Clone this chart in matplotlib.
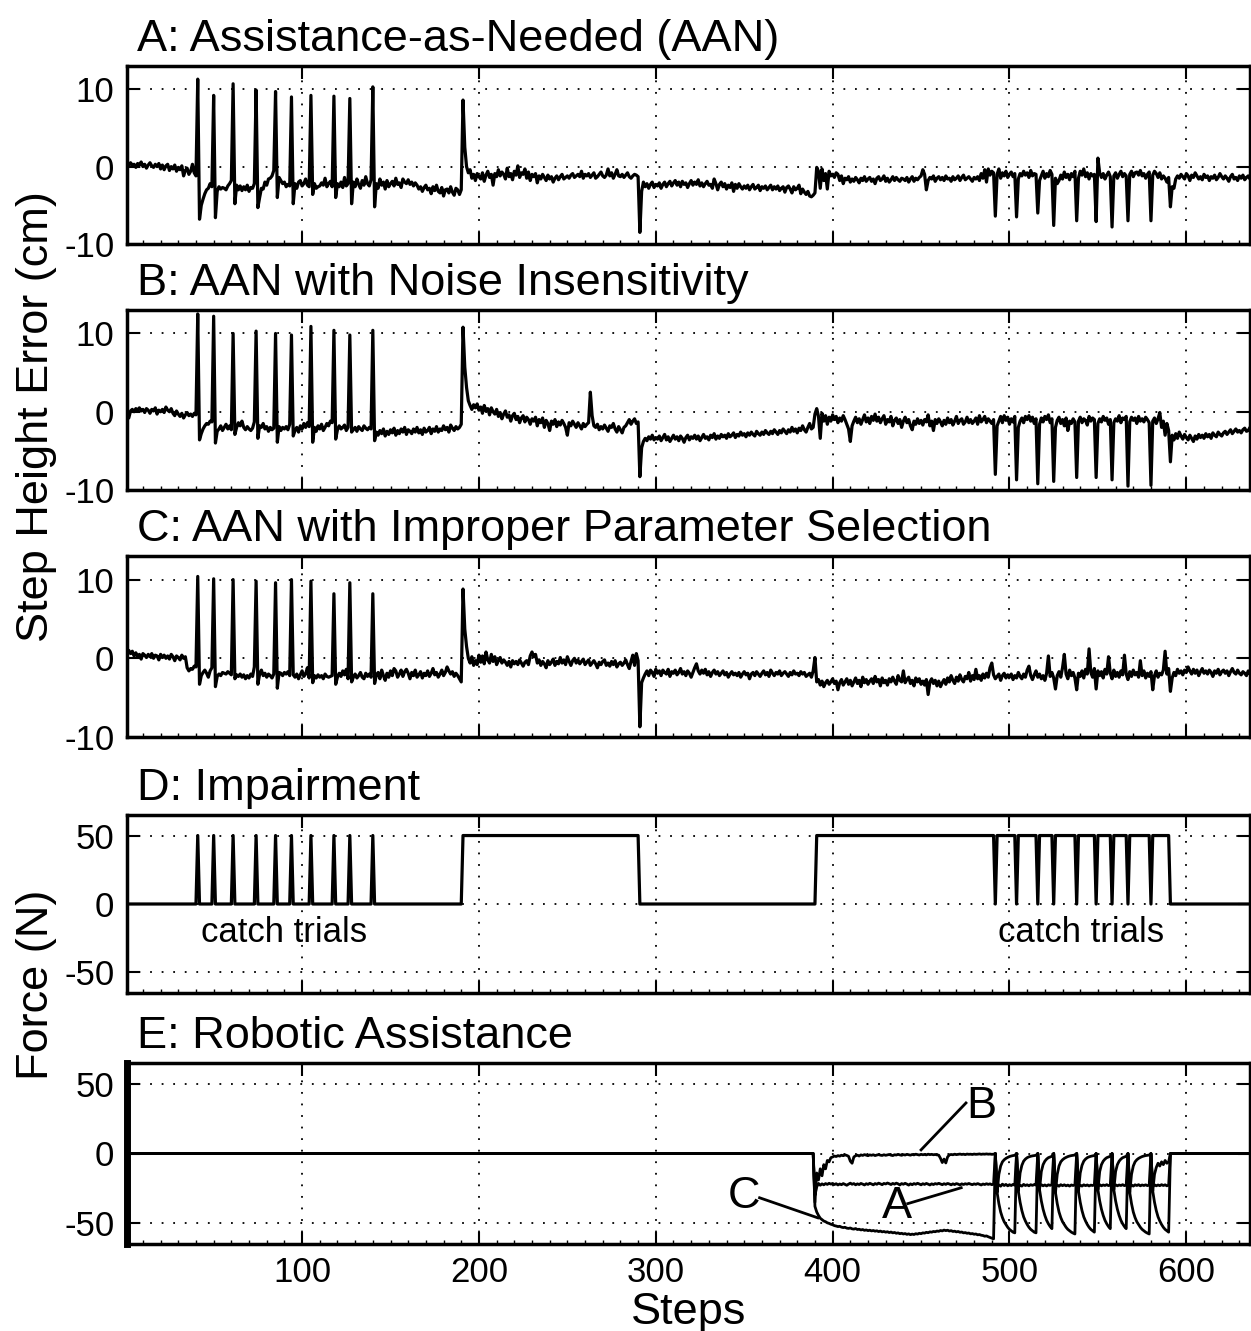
"""
step height error and force traces for the AAN simulations.
five stacked panels, black lines, dotted grid.
"""

import numpy as np
import matplotlib
matplotlib.use('Agg')
import matplotlib.pyplot as plt

plt.rcParams['font.family'] = ['Liberation Sans', 'DejaVu Sans']
plt.rcParams['axes.unicode_minus'] = False

# step height error (cm), one value per step, steps 1..640
err_aan = [
    0.4, 0.1, 0.5, 0.2, 0.3, -0.1, 0.4, 0.2, 0.6, 0.0,
    0.3, -0.2, 0.2, 0.5, 0.1, -0.1, 0.3, 0.0, 0.4, -0.3,
    0.2, -0.4, 0.1, 0.3, -0.5, 0.0, -0.3, 0.2, -0.6, -0.1,
    -0.4, 0.1, -1.2, -0.5, -0.2, -1.0, -0.6, 0.3, -0.8, -1.2,
    11.3, -6.8, -5.0, -4.2, -3.5, -3.0, -2.8, -2.2, -2.6, 9.2,
    -6.6, -3.2, -2.6, -2.9, -2.7, -2.8, -3.0, -2.5, -2.2, -1.8,
    10.7, -4.8, -2.4, -3.0, -2.5, -3.1, -2.6, -3.0, -2.4, -3.2,
    -2.7, -2.8, -2.2, 9.9, -5.3, -4.0, -2.8, -2.9, -2.0, -2.4,
    -1.6, -1.5, -1.2, -0.5, 9.7, -4.0, -1.4, -1.8, -2.2, -2.0,
    -2.6, -2.3, -2.5, 9.0, -4.8, -2.2, -2.8, -2.0, -1.8, -2.5,
    -2.2, -1.6, -2.4, -2.6, 9.2, -3.6, -2.2, -2.8, -2.6, -2.5,
    -2.1, -2.4, -1.5, -2.6, -2.2, -1.9, -2.6, 9.1, -4.0, -2.2,
    -2.6, -2.0, -2.7, -1.4, -2.5, -2.2, 8.8, -4.8, -2.0, -2.6,
    -1.6, -2.3, -2.8, -1.8, -2.4, -1.3, -2.2, -2.5, -1.7, 10.3,
    -5.2, -2.2, -2.8, -1.6, -2.4, -2.0, -2.9, -1.8, -2.6, -2.2,
    -1.9, -2.5, -1.5, -2.3, -2.1, -2.7, -1.6, -2.0, -2.2, -1.7,
    -2.3, -2.0, -2.5, -2.1, -2.4, -2.9, -2.6, -3.2, -2.7, -2.4,
    -3.0, -2.8, -3.5, -2.6, -3.1, -2.4, -3.2, -3.4, -2.7, -3.8,
    -3.0, -2.9, -3.4, -2.6, -3.3, -3.7, -2.8, -3.0, -3.6, -3.0,
    8.6, 2.5, 0.0, -0.8, -0.4, -1.5, -1.0, -1.8, -0.9, -1.3,
    -1.6, -0.8, -1.9, -1.1, -0.6, -1.4, -1.0, -2.4, -0.9, -1.3,
    -0.4, -1.2, -0.7, -1.0, -1.6, -0.2, -1.3, -0.9, -1.7, -0.6,
    -1.1, 0.1, -1.4, -0.8, -1.0, -0.3, -1.5, -0.7, -1.8, -1.0,
    -1.3, -0.9, -2.1, -1.2, -1.6, -1.0, -1.4, -1.8, -1.1, -1.6,
    -1.3, -2.0, -1.5, -1.2, -1.7, -1.3, -1.0, -1.6, -1.4, -1.2,
    -1.5, -1.1, -0.9, -1.4, -1.2, -1.0, -1.3, -0.6, -1.5, -1.0,
    -1.2, -0.9, -1.4, -1.1, -0.8, -1.5, -1.3, -1.0, -0.7, -1.2,
    -1.4, -1.1, -0.3, -1.2, -0.8, -1.5, -1.0, -0.4, -1.2, -1.3,
    -1.0, -1.4, -1.1, -0.8, -1.3, -1.5, -1.2, -1.0, -1.1, -1.3,
    -8.5, -3.2, -2.0, -2.6, -2.2, -2.8, -2.3, -2.0, -2.7, -2.3,
    -2.5, -2.1, -2.8, -2.3, -2.0, -2.6, -2.2, -1.9, -2.5, -2.1,
    -1.8, -2.4, -2.0, -2.6, -1.9, -2.3, -2.1, -2.7, -2.2, -1.8,
    -2.4, -2.0, -2.3, -1.7, -2.5, -2.1, -2.6, -2.2, -1.9, -2.4,
    -2.3, -2.8, -1.6, -2.2, -3.0, -2.3, -2.0, -2.6, -2.2, -2.9,
    -2.4, -2.7, -2.1, -3.2, -2.3, -2.8, -2.2, -2.6, -2.9, -2.5,
    -2.8, -2.4, -3.0, -2.6, -2.3, -2.9, -2.7, -2.4, -3.1, -2.6,
    -2.8, -2.5, -3.0, -2.7, -2.4, -3.0, -2.6, -2.9, -2.5, -3.1,
    -2.8, -2.6, -3.3, -2.7, -2.5, -2.9, -3.4, -2.6, -3.0, -2.8,
    -2.4, -3.5, -2.9, -3.3, -3.6, -3.2, -3.8, -3.9, -3.7, -3.4,
    -0.1, -0.6, -2.8, -0.3, -1.8, -0.9, -2.9, -0.6, -1.2, -1.0,
    -1.4, -0.8, -1.0, -1.8, -1.2, -2.2, -1.5, -1.7, -1.3, -2.0,
    -1.6, -1.9, -1.4, -1.7, -2.1, -1.5, -1.8, -1.3, -1.9, -1.6,
    -1.4, -1.9, -1.6, -2.2, -1.5, -1.3, -1.8, -1.6, -1.2, -1.9,
    -1.5, -2.0, -1.7, -1.3, -1.8, -1.4, -1.7, -1.9, -1.5, -1.6,
    -1.8, -1.4, -2.0, -1.6, -1.3, -1.9, -1.5, -1.7, -1.4, -1.2,
    -0.4, -1.0, -3.0, -1.8, -1.4, -1.6, -1.2, -1.9, -1.5, -1.3,
    -1.7, -1.4, -1.8, -1.2, -1.6, -1.5, -1.9, -1.3, -1.7, -1.5,
    -1.2, -1.8, -1.4, -1.1, -1.7, -1.5, -1.3, -1.6, -1.9, -1.4,
    -1.6, -1.3, -1.8, -0.9, -1.5, -0.4, -2.0, -0.3, -1.1, -0.6,
    -0.8, -6.4, -1.0, -0.3, -1.5, -0.8, -1.2, -0.6, -1.4, -1.0,
    -0.7, -1.3, -0.9, -6.5, -1.6, -0.9, -1.2, -0.6, -1.1, -0.8,
    -1.4, -0.5, -1.2, -0.9, -1.0, -6.0, -1.8, -1.2, -0.6, -1.5,
    -0.9, -1.3, -0.5, -1.0, -7.6, -1.5, -2.2, -1.8, -1.1, -1.6,
    -0.7, -1.4, -1.0, -1.7, -0.9, -1.3, -0.6, -7.0, -1.5, -0.6,
    -1.1, -0.3, -1.3, -0.8, -1.6, -0.9, -1.2, -1.0, -7.1, 1.1,
    -0.8, -1.4, -0.9, -1.6, -1.1, -0.7, -1.3, -7.8, -1.2, -0.8,
    -1.5, -1.0, -0.6, -1.3, -0.9, -1.2, -7.0, -1.0, -0.6, -1.3,
    -0.8, -0.7, -1.1, -0.5, -1.2, -0.9, -1.5, -1.0, -0.7, -7.0,
    -1.1, -0.6, -0.9, -1.4, -0.8, -1.6, -1.2, -1.5, -2.0, -1.4,
    -5.2, -2.6, -2.8, -1.6, -1.2, -1.5, -1.0, -1.3, -1.6, -0.9,
    -1.2, -1.8, -1.1, -1.4, -0.8, -1.2, -1.6, -1.3, -1.7, -1.0,
    -1.4, -1.2, -1.8, -1.3, -1.5, -1.1, -1.7, -1.4, -0.9, -1.3,
    -1.6, -1.2, -1.5, -1.9, -1.3, -1.0, -1.6, -1.4, -1.8, -1.2,
    -1.5, -1.1, -1.7, -1.4, -1.2, -1.6, -1.3, -1.5, -1.2, -1.4,
]

err_noise = [
    0.2, -0.8, 0.1, 0.3, 0.0, 0.4, 0.2, 0.5, 0.1, 0.3,
    -0.1, 0.4, 0.2, -0.2, 0.3, 0.1, 0.5, -0.3, 0.2, 0.0,
    0.3, -0.1, 0.6, 0.2, 0.0, 0.4, -0.2, -0.5, 0.1, -0.3,
    -0.6, -0.2, -0.8, -0.4, -0.1, -0.5, -0.3, -0.6, -0.2, -0.4,
    12.5, -3.6, -2.8, -2.2, -1.8, -1.5, -1.6, -1.2, -1.3, 12.2,
    -4.0, -2.5, -2.2, -1.8, -2.4, -2.0, -1.6, -2.2, -1.8, -2.3,
    10.0, -2.9, -2.0, -1.4, -1.8, -1.2, -2.0, -2.3, -1.9, -2.2,
    -2.4, -2.1, -1.3, 10.3, -3.4, -1.8, -2.0, -1.5, -2.2, -1.9,
    -2.5, -2.0, -2.3, -2.1, 10.0, -3.9, -1.9, -2.4, -2.0, -2.2,
    -1.9, -2.3, -1.6, 9.8, -3.1, -2.4, -2.0, -2.6, -1.8, -2.2,
    -1.5, -2.0, -1.4, -1.9, 10.9, -3.9, -2.0, -2.5, -1.8, -2.2,
    -1.6, -2.4, -2.0, -1.5, -1.8, -1.2, -1.4, 10.4, -3.5, -2.3,
    -1.8, -2.2, -2.0, -1.7, -2.4, -2.0, 9.8, -2.6, -2.3, -2.0,
    -2.5, -1.9, -2.2, -2.4, -1.8, -2.1, -2.3, -2.0, -2.2, 10.4,
    -3.7, -2.6, -3.0, -2.4, -2.8, -2.2, -3.1, -2.5, -2.9, -2.3,
    -2.7, -2.1, -3.0, -2.4, -2.8, -2.2, -2.6, -2.0, -2.9, -2.3,
    -2.5, -2.8, -2.2, -2.6, -2.0, -2.7, -2.3, -2.9, -2.1, -2.6,
    -2.4, -2.0, -2.8, -2.2, -2.5, -1.9, -2.6, -2.2, -2.4, -1.8,
    -2.3, -2.0, -2.6, -1.7, -2.1, -2.4, -1.9, -2.2, -2.0, -1.6,
    10.8, 5.7, 3.1, 1.4, 0.8, 0.3, 0.9, 0.5, 1.0, 0.2,
    0.6, -0.2, 0.8, 0.1, 0.4, -0.4, 0.5, 0.0, -0.3, 0.3,
    -0.6, -0.1, -0.9, -0.3, 0.1, -0.7, -0.4, -1.2, -0.5, -0.2,
    -1.0, -0.6, -1.4, -0.8, -0.5, -1.3, -0.7, -1.0, -1.6, -0.9,
    -1.2, -0.7, -1.8, -1.0, -1.4, -0.8, -2.0, -1.1, -1.5, -2.4,
    -1.2, -1.6, -1.0, -1.9, -1.3, -1.7, -1.1, -1.5, -2.0, -3.0,
    -1.4, -1.8, -1.2, -1.6, -2.0, -1.4, -1.8, -2.2, -1.5, -1.9,
    -1.6, -1.4, 2.5, -0.5, -1.8, -2.0, -1.6, -2.3, -1.9, -2.2,
    -1.7, -2.1, -2.5, -1.8, -2.0, -1.5, -2.2, -2.6, -1.9, -2.3,
    -2.7, -2.0, -1.8, -1.4, -1.0, -1.6, -1.2, -0.9, -1.5, -1.3,
    -8.3, -4.6, -3.8, -3.4, -3.7, -3.2, -3.5, -3.0, -3.6, -3.3,
    -3.5, -3.1, -3.7, -3.3, -2.9, -3.6, -3.2, -3.8, -3.4, -3.0,
    -3.5, -3.2, -3.7, -3.1, -3.4, -3.9, -3.3, -3.0, -3.6, -3.2,
    -3.4, -3.0, -3.5, -3.1, -3.7, -3.3, -2.9, -3.4, -3.2, -3.6,
    -3.0, -3.3, -2.8, -3.5, -3.1, -3.4, -2.9, -3.2, -3.0, -3.4,
    -2.8, -3.2, -3.0, -2.7, -3.3, -2.9, -3.1, -2.6, -3.0, -2.8,
    -3.2, -2.7, -3.0, -2.6, -2.9, -3.1, -2.5, -2.8, -3.0, -2.6,
    -2.9, -2.4, -2.7, -2.9, -2.5, -2.8, -2.3, -2.6, -2.9, -2.4,
    -2.7, -2.2, -2.5, -2.8, -2.3, -2.6, -2.0, -2.5, -2.2, -2.7,
    -2.1, -2.4, -1.8, -2.3, -2.6, -2.0, -1.5, -2.2, -2.0, -0.3,
    0.4, -0.6, -3.4, -0.2, -1.2, -0.5, -1.6, -0.7, -1.2, -0.4,
    -1.0, -0.6, -1.4, -0.8, -1.2, -0.5, -1.0, -1.6, -2.2, -3.8,
    -1.8, -1.2, -0.7, -1.4, -0.9, -1.6, -1.0, -0.4, -1.3, -0.8,
    -1.5, -0.6, -1.1, -0.3, -1.2, -0.7, -1.4, -0.9, -0.5, -1.6,
    -1.0, -1.3, -0.6, -1.8, -1.1, -0.8, -1.5, -1.0, -2.0, -1.2,
    -0.7, -1.4, -1.0, -1.8, -2.3, -1.2, -1.6, -0.9, -1.5, -1.1,
    -1.7, -1.0, -1.3, -0.4, -1.8, -1.2, -2.4, -1.0, -1.5, -0.9,
    -1.3, -1.8, -1.1, -1.6, -0.8, -1.4, -1.0, -1.7, -1.2, -0.6,
    -1.5, -1.1, -0.9, -1.6, -1.3, -0.7, -1.4, -1.0, -1.5, -1.2,
    -0.8, -1.6, -0.5, -1.3, -1.0, -0.6, -1.4, -0.9, -1.2, -1.5,
    -1.0, -8.0, -1.8, -1.2, -0.6, -1.4, -0.5, -1.1, -0.7, -1.6,
    -0.9, -1.3, -0.6, -8.7, -2.0, -1.2, -0.8, -1.4, -0.6, -1.0,
    -0.5, -1.2, -0.7, -1.5, -0.9, -9.2, -1.6, -0.8, -1.3, -0.6,
    -1.0, -0.4, -1.4, -0.9, -8.9, -2.0, -1.1, -0.7, -1.5, -1.0,
    -1.8, -0.8, -2.4, -1.2, -1.5, -0.9, -1.3, -8.4, -1.2, -0.7,
    -1.4, -0.9, -1.1, -1.7, -0.6, -1.2, -0.8, -1.0, -8.4, -1.5,
    -0.9, -1.3, -0.6, -1.1, -0.8, -1.6, -1.0, -8.7, -1.4, -0.9,
    -1.2, -0.5, -1.4, -0.8, -1.0, -0.6, -9.5, -1.3, -0.7, -1.1,
    -0.8, -1.5, -0.6, -1.2, -0.9, -1.3, -0.7, -1.0, -1.4, -9.4,
    -1.2, -0.8, -1.5, -0.9, -0.1, -2.0, -1.2, -3.0, -1.5, -2.4,
    -6.4, -3.0, -3.6, -2.8, -3.4, -2.6, -3.1, -3.5, -2.9, -3.3,
    -3.6, -3.0, -3.4, -3.8, -3.1, -3.5, -2.9, -3.3, -3.0, -3.4,
    -2.8, -3.2, -2.9, -3.4, -2.7, -3.0, -3.2, -2.6, -2.9, -3.1,
    -2.7, -2.5, -2.9, -2.6, -2.3, -2.8, -2.5, -2.2, -2.6, -2.4,
    -2.7, -2.3, -2.1, -2.5, -2.4, -2.0, -2.6, -2.3, -2.2, -2.5,
]

err_improper = [
    0.8, 1.0, 0.6, 0.9, 0.3, 0.7, 0.2, 0.5, -0.1, 0.6,
    0.4, 0.1, 0.5, 0.2, 0.6, 0.0, 0.4, 0.3, -0.2, 0.5,
    0.1, 0.4, 0.0, 0.3, -0.1, 0.5, 0.2, -0.3, 0.3, 0.1,
    -0.2, 0.4, 0.0, 0.2, -1.2, -1.6, -1.3, -1.4, -1.0, -1.1,
    10.4, -3.3, -2.2, -1.8, -1.5, -1.9, -2.4, -1.6, -1.2, 10.1,
    -3.6, -2.3, -2.0, -2.2, -1.8, -1.9, -2.0, -1.7, -1.9, -2.1,
    10.0, -2.6, -2.1, -2.3, -2.0, -2.4, -2.1, -2.6, -2.2, -2.5,
    -2.0, -2.3, -1.1, 9.8, -3.3, -2.0, -1.5, -2.2, -1.9, -2.4,
    -2.0, -2.2, -2.5, -2.0, 9.6, -3.8, -1.8, -1.9, -2.2, -1.8,
    -2.0, -1.7, -2.2, 10.0, -2.1, -2.4, -2.0, -2.6, -2.1, -1.6,
    -2.3, -2.0, -1.2, -2.5, 9.8, -3.1, -2.2, -2.5, -2.1, -2.4,
    -2.2, -2.6, -2.0, -2.3, -2.4, -2.3, -2.2, 8.2, -3.3, -2.4,
    -1.9, -2.3, -1.6, -2.1, -1.4, -2.6, 9.6, -3.0, -2.4, -2.0,
    -2.5, -2.2, -1.8, -2.4, -2.6, -1.9, -2.3, -2.0, -2.4, 8.2,
    -3.2, -2.1, -1.8, -2.6, -1.5, -2.2, -2.8, -1.9, -2.4, -1.6,
    -2.2, -1.3, -1.6, -2.4, -2.0, -1.5, -2.3, -1.7, -1.4, -1.9,
    -2.6, -1.8, -2.2, -1.5, -2.4, -2.1, -1.7, -2.5, -1.9, -2.2,
    -1.6, -2.3, -1.9, -1.3, -2.1, -1.8, -2.4, -2.0, -1.5, -2.2,
    -1.8, -1.1, -1.6, -2.0, -1.7, -2.3, -1.9, -2.2, -2.6, -3.0,
    8.8, 3.7, 1.5, 0.0, -0.6, 0.2, -0.9, -0.3, -0.8, 0.4,
    -0.5, 0.3, -0.7, 0.8, -0.2, -0.6, 0.5, -0.4, 0.2, -0.8,
    -0.3, 0.1, -0.6, -0.2, -0.5, -0.9, -0.4, -1.1, -0.3, -0.7,
    -0.4, -0.8, -0.2, -0.6, -1.0, -0.5, -0.3, -0.8, 0.3, 0.8,
    0.2, 0.5, -0.6, -0.2, -0.9, -0.4, -0.7, -1.2, -0.3, -0.8,
    -0.5, -0.1, -0.9, -0.4, -0.7, 0.1, -0.6, -0.2, -0.8, 0.2,
    -0.4, -0.9, -0.3, 0.0, -0.6, -0.2, -0.7, -0.4, -0.1, -0.8,
    -0.5, -0.2, -0.9, -0.6, -0.3, -0.7, -1.2, -0.5, -0.8, -0.4,
    -0.2, -0.9, -0.6, -1.0, -0.4, -0.8, -0.3, -1.1, -0.7, -0.5,
    -0.9, -0.6, -0.2, -0.8, -1.3, -0.4, 0.4, -0.9, 0.6, -0.3,
    -8.7, -3.1, -2.5, -2.0, -1.6, -2.2, -1.5, -1.8, -2.3, -1.4,
    -1.9, -1.6, -2.2, -1.5, -1.8, -2.0, -1.4, -2.3, -1.7, -1.9,
    -1.5, -2.1, -1.8, -1.3, -2.0, -1.7, -2.2, -1.6, -1.9, -2.4,
    -1.8, -1.2, -0.7, -1.6, -2.0, -1.5, -1.9, -1.4, -2.1, -1.7,
    -2.3, -1.8, -1.5, -2.0, -1.7, -2.2, -1.9, -1.6, -2.1, -1.8,
    -2.4, -2.0, -1.7, -2.1, -1.9, -2.2, -1.8, -2.4, -2.0, -1.7,
    -2.1, -1.9, -2.6, -2.0, -1.8, -2.2, -1.7, -2.0, -2.3, -1.9,
    -1.6, -2.1, -1.8, -2.3, -1.5, -1.9, -2.2, -1.8, -2.0, -1.6,
    -2.2, -1.9, -1.7, -2.0, -2.3, -1.8, -2.1, -1.6, -2.0, -1.9,
    -2.2, -1.7, -2.0, -1.8, -2.3, -2.1, -1.9, -2.4, -1.6, 0.1,
    -3.0, -2.7, -3.4, -2.9, -3.6, -3.1, -2.8, -3.3, -3.0, -2.6,
    -3.2, -2.9, -4.0, -3.1, -2.7, -3.4, -3.0, -2.6, -3.3, -2.8,
    -3.5, -3.0, -2.5, -3.2, -2.8, -3.6, -2.4, -3.1, -2.7, -3.3,
    -2.9, -2.6, -3.2, -2.3, -3.0, -2.7, -3.5, -2.5, -3.1, -2.8,
    -3.4, -2.6, -3.0, -2.4, -2.9, -3.3, -2.2, -2.8, -3.0, -1.6,
    -3.1, -2.7, -2.4, -3.2, -2.8, -3.5, -2.5, -3.0, -2.6, -3.3,
    -2.9, -3.4, -2.7, -4.6, -3.0, -2.6, -3.2, -2.8, -3.5, -2.9,
    -3.6, -3.1, -2.7, -3.3, -2.5, -3.0, -2.2, -2.8, -3.2, -2.4,
    -2.9, -2.1, -2.7, -3.0, -2.3, -2.6, -1.8, -2.9, -2.2, -2.7,
    -1.4, -2.6, -2.2, -2.8, -2.0, -2.5, -1.9, -2.4, -1.2, -0.6,
    -2.1, -2.6, -2.3, -2.0, -2.8, -2.2, -1.9, -2.5, -2.1, -2.4,
    -2.0, -2.7, -2.2, -2.5, -1.8, -2.3, -2.6, -2.0, -2.4, -1.5,
    -1.0, -2.2, -2.7, -2.1, -1.6, -2.4, -2.0, -2.6, -2.2, -2.8,
    -1.9, 0.3, -2.3, -1.8, -2.5, -3.9, -2.2, -1.7, -2.4, -1.2,
    0.5, -2.0, -2.6, -1.5, -2.2, -1.8, -2.5, -4.0, -1.9, -2.3,
    -1.6, -2.5, -1.4, -2.0, 1.2, -1.8, -2.4, -1.3, -3.9, -1.6,
    -2.2, -1.7, -2.5, -1.4, -2.0, 0.2, -1.9, -2.6, -1.5, -2.3,
    -1.8, -2.4, -1.6, -2.1, 0.4, -2.0, -2.7, -1.7, -2.3, -1.5,
    -2.1, -1.8, -2.4, -0.3, -2.2, -1.6, -2.5, -1.9, -2.3, -1.7,
    -4.0, -2.2, -1.6, -2.4, -1.9, -2.1, -1.5, 0.9, -2.0, -1.3,
    -4.2, -2.5, -1.8, -2.2, -1.4, -1.9, -1.6, -2.1, -1.5, -1.8,
    -1.1, -1.6, -2.0, -1.4, -1.9, -1.5, -2.2, -1.7, -1.3, -1.9,
    -1.6, -2.0, -1.5, -1.8, -2.3, -1.6, -1.9, -1.4, -2.1, -1.7,
    -1.5, -1.9, -1.6, -2.2, -1.7, -1.3, -1.8, -2.0, -1.5, -1.9,
    -2.1, -1.7, -1.9, -2.2, -1.6, -2.0, -1.8, -2.1, -1.7, -1.9,
]

# impairment force (N) as runs of (level, number of steps)
impairment_levels = [0, 50, 0, 50, 0, 50, 0, 50, 0, 50, 0, 50, 0, 50, 0,
                     50, 0, 50, 0, 50, 0, 50, 0, 50, 0, 50, 0, 50, 0, 50,
                     0, 50, 0, 50, 0, 50, 0, 50, 0, 50, 0, 50, 0]
impairment_runs = [40, 1, 8, 1, 10, 1, 12, 1, 10, 1, 8, 1, 10, 1, 12,
                   1, 8, 1, 12, 1, 50, 100, 100, 101, 1, 11, 1, 11, 1, 8,
                   1, 12, 1, 10, 1, 8, 1, 8, 1, 12, 1, 10, 50]

# robotic assistance force (N), zero before step 390, values for steps 390..599
assist_aan_active = [
    -30, -24, -21.5, -22.8, -21.8, -22.5, -21.6, -22.2, -21.4, -22.0,
    -21.5, -22.3, -21.7, -22.6, -21.9, -22.4, -21.6, -22.2, -22.8, -22.0,
    -21.3, -22.1, -21.6, -22.5, -21.8, -22.3, -21.5, -22.0, -22.6, -21.7,
    -22.2, -21.4, -21.9, -22.5, -21.6, -22.1, -21.3, -21.8, -22.4, -21.5,
    -21.9, -21.2, -21.7, -22.3, -21.5, -22.0, -21.3, -21.8, -22.6, -21.6,
    -22.1, -21.4, -22.0, -22.7, -21.8, -22.4, -21.6, -22.1, -21.4, -21.9,
    -22.5, -21.7, -22.2, -21.5, -22.0, -22.6, -21.8, -22.3, -21.6, -22.0,
    -21.4, -21.9, -22.4, -21.7, -22.2, -21.5, -21.9, -22.5, -21.8, -22.3,
    -21.6, -22.0, -22.6, -21.8, -22.3, -21.7, -22.1, -21.5, -22.0, -22.4,
    -21.8, -22.2, -21.6, -22.1, -22.6, -21.9, -22.3, -21.7, -22.2, -21.8,
    -22.4, -22.0, 0, -24, -22.5, -23.5, -22, -23, -22.2, -23.2,
    -22.4, -23, -22.2, -22.8, 0, -24, -22.8, -23.4, -22.2, -23,
    -22.5, -23.2, -22.4, -22.9, -22.3, -22.7, 0, -23.5, -22.4, -23.2,
    -22.6, -23.3, -22.5, -22.9, -22.4, 0, -24, -22.6, -23.5, -22.4,
    -23.1, -22.5, -23.2, -22.7, -23.4, -22.6, -23, -22.5, 0, -24,
    -22.7, -23.4, -22.5, -23.1, -22.6, -23.3, -22.7, -23, -22.5, 0,
    -23.6, -22.4, -23.2, -22.6, -23, -22.4, -23.1, -22.7, 0, -23.5,
    -22.5, -23.2, -22.6, -23, -22.4, -23.1, -22.7, 0, -24, -22.6,
    -23.4, -22.5, -23, -22.4, -23.2, -22.6, -23, -22.5, -23.1, -22.7,
    0, -23.8, -22.5, -23.2, -22.6, -23.1, -22.4, -23, -22.5, -23.2,
    -22.7, 0, 0, 0, 0, 0, 0, 0, 0, 0,
]

assist_noise_active = [
    -35, -14, -19, -11, -16, -8, -11, -5, -6, -3,
    -2.5, -1.8, -2.2, -1.5, -1.9, -1.2, -1.6, -1.0, -1.4, -2.0,
    -5.5, -7.0, -2.5, -1.6, -1.2, -1.8, -1.0, -1.4, -0.8, -1.2,
    -1.6, -1.0, -1.3, -0.9, -1.5, -1.1, -0.8, -1.2, -1.4, -0.9,
    -1.3, -1.0, -0.7, -1.2, -1.5, -0.9, -1.1, -0.6, -1.0, -1.3,
    -0.8, -1.1, -0.6, -0.9, -1.2, -0.7, -1.0, -0.5, -0.8, -1.1,
    -0.6, -0.9, -0.7, -1.0, -0.5, -0.8, -0.6, -0.9, -0.7, -1.0,
    -1.2, -3.5, -6.5, -4.0, -6.8, -2.5, -1.0, -0.7, -0.9, -0.5,
    -0.8, -0.6, -0.4, -0.7, -0.5, -0.8, -0.4, -0.6, -0.5, -0.7,
    -0.4, -0.6, -0.5, -0.3, -0.6, -0.4, -0.5, -0.3, -0.5, -0.4,
    -0.6, -0.5, 0, -28, -15, -9, -6, -4.5, -3.5, -2.8,
    -2.2, -1.8, -1.5, -1.3, 0, -27, -14, -8.5, -5.5, -4,
    -3, -2.4, -2, -1.7, -1.5, -1.3, 0, -26, -13, -8,
    -5.5, -4, -3, -2.5, -2, 0, -28, -15, -9, -6,
    -4.5, -3.5, -2.8, -2.2, -1.8, -1.5, -1.3, -1.1, 0, -27,
    -14, -8.5, -5.5, -4, -3, -2.4, -2, -1.7, -1.5, 0,
    -26, -13, -8, -5.5, -4, -3, -2.5, -2, 0, -26,
    -13, -8, -5.5, -4, -3, -2.5, -2, 0, -28, -15,
    -9, -6, -4.5, -3.5, -2.8, -2.2, -1.8, -1.5, -1.3, -1.1,
    0, -27, -15, -10, -7, -9, -6, -8, -5, -7,
    -6, 0, 0, 0, 0, 0, 0, 0, 0, 0,
]

assist_improper_active = [
    -38, -42, -44.5, -46.5, -47.5, -48.5, -49, -49.8, -50.2, -50.8,
    -51.2, -51.8, -52.1, -52.5, -52.3, -52.9, -53.2, -53, -53.6, -53.8,
    -53.5, -54.1, -54.3, -53.9, -54.6, -54.4, -54.9, -54.6, -55.2, -54.9,
    -55.4, -55.1, -55.6, -55.3, -55.8, -55.5, -56.1, -55.7, -56.3, -56.0,
    -56.5, -56.2, -56.8, -56.4, -57.0, -56.7, -57.3, -57.0, -57.6, -57.3,
    -57.8, -57.5, -58.1, -57.7, -58.3, -57.9, -58.2, -57.6, -57.9, -57.3,
    -57.6, -57.0, -57.2, -56.6, -56.9, -56.3, -56.5, -56.0, -56.2, -55.7,
    -55.9, -55.3, -55.6, -55.0, -55.4, -55.1, -55.7, -55.4, -56.0, -55.8,
    -56.3, -56.0, -56.6, -56.4, -57.0, -56.8, -57.3, -57.1, -57.7, -57.5,
    -58.0, -57.8, -58.4, -58.2, -58.7, -58.9, -59.4, -59.2, -59.8, -60.3,
    -60.8, -61.3, 0, -28, -36, -42, -46, -49, -51, -53,
    -54.5, -55.5, -56.5, -57, 0, -27, -35, -41, -45.5, -48.5,
    -51, -53, -54.5, -55.5, -56.5, -57, 0, -26, -34, -40,
    -44.5, -48, -50.5, -52.5, -54, 0, -28, -36, -42, -46,
    -49, -51, -53, -54.5, -55.5, -56.5, -57.2, -57.8, 0, -27,
    -35, -41, -45.5, -48.5, -51, -53, -54.5, -55.5, -56.5, 0,
    -26, -34, -40, -44.5, -48, -50.5, -52.5, -54, 0, -26,
    -34, -40, -44.5, -48, -50.5, -52.5, -54, 0, -28, -36,
    -42, -46, -49, -51, -53, -54.5, -55.5, -56.5, -57.2, -57.8,
    0, -27, -35, -41, -45.5, -48.5, -51, -53, -54.5, -55.5,
    -56.5, 0, 0, 0, 0, 0, 0, 0, 0, 0,
]

titles = ['A: Assistance-as-Needed (AAN)',
          'B: AAN with Noise Insensitivity',
          'C: AAN with Improper Parameter Selection',
          'D: Impairment',
          'E: Robotic Assistance']

n_steps = len(err_aan)
steps = np.arange(1, n_steps + 1)
impairment = np.repeat(impairment_levels, impairment_runs)


def pad_assist(active):
    return np.array([0.0] * 389 + active + [0.0] * (n_steps - 389 - len(active)))


assist = [pad_assist(assist_aan_active),
          pad_assist(assist_noise_active),
          pad_assist(assist_improper_active)]

W, H = 1251, 1331
fig = plt.figure(figsize=(W / 100.0, H / 100.0), dpi=100)

# axes boxes in pixels: (top, bottom)
boxes = [(66, 244), (310, 490), (556, 737), (815, 993), (1063, 1244)]
axes = []
for top, bot in boxes:
    ax = fig.add_axes([127.0 / W, 1 - bot / float(H), 1123.0 / W, (bot - top) / float(H)])
    axes.append(ax)

grid_style = dict(color='black', linestyle=(0, (1, 5.4)), linewidth=1.3)
lw = 2.3

for i, ax in enumerate(axes):
    ax.set_xlim(1, 636)
    ax.set_xticks([100, 200, 300, 400, 500, 600])
    ax.set_xticks(np.arange(10, 636, 10), minor=True)
    ax.tick_params(which='major', direction='in', length=9, width=1.5,
                   top=True, right=True, labelsize=25, pad=9)
    ax.tick_params(which='minor', direction='in', length=3, width=1,
                   top=False, bottom=True, right=False, left=False)
    ax.grid(True, which='major', **grid_style)
    for sp in ax.spines.values():
        sp.set_linewidth(2.5)
    if i < 4:
        ax.tick_params(labelbottom=False)
    ax.annotate(titles[i], xy=(0, 1), xycoords='axes fraction',
                xytext=(7.5, 11), textcoords='offset points',
                fontsize=32.5, ha='left', va='baseline')

for ax, err in zip(axes[:3], [err_aan, err_noise, err_improper]):
    ax.plot(steps, err, color='black', linewidth=lw)
    ax.set_ylim(-10, 13)
    ax.set_yticks([-10, 0, 10])

ax = axes[3]
ax.plot(steps, impairment, color='black', linewidth=lw)
ax.set_ylim(-65, 65)
ax.set_yticks([-50, 0, 50])
ax.text(89.6, -21, 'catch trials', fontsize=25, ha='center', va='center')
ax.text(540.7, -21, 'catch trials', fontsize=25, ha='center', va='center')

ax = axes[4]
for a in assist:
    ax.plot(steps, a, color='black', linewidth=2.0)
ax.set_ylim(-65, 65)
ax.set_yticks([-50, 0, 50])
ax.spines['left'].set_linewidth(5)
ax.set_xlabel('Steps', fontsize=32.5, labelpad=2)

# labels for the three assistance traces
ax.plot([450, 475.4], [2.6, 36.3], color='black', linewidth=2.0)
ax.text(484, 33.6, 'B', fontsize=32.5, ha='center', va='center')
ax.plot([442.5, 472.7], [-36, -24.6], color='black', linewidth=2.0)
ax.text(436.4, -38, 'A', fontsize=32.5, ha='center', va='center')
ax.plot([358.7, 391.6], [-31.8, -46.2], color='black', linewidth=2.0)
ax.text(349.6, -31, 'C', fontsize=32.5, ha='center', va='center')

fig.text(37.0 / W, 1 - 417.0 / H, 'Step Height Error (cm)', rotation=90,
         fontsize=32.5, ha='center', va='center')
fig.text(37.0 / W, 1 - 985.0 / H, 'Force (N)', rotation=90,
         fontsize=32.5, ha='center', va='center')

fig.savefig('out.png', dpi=100)
